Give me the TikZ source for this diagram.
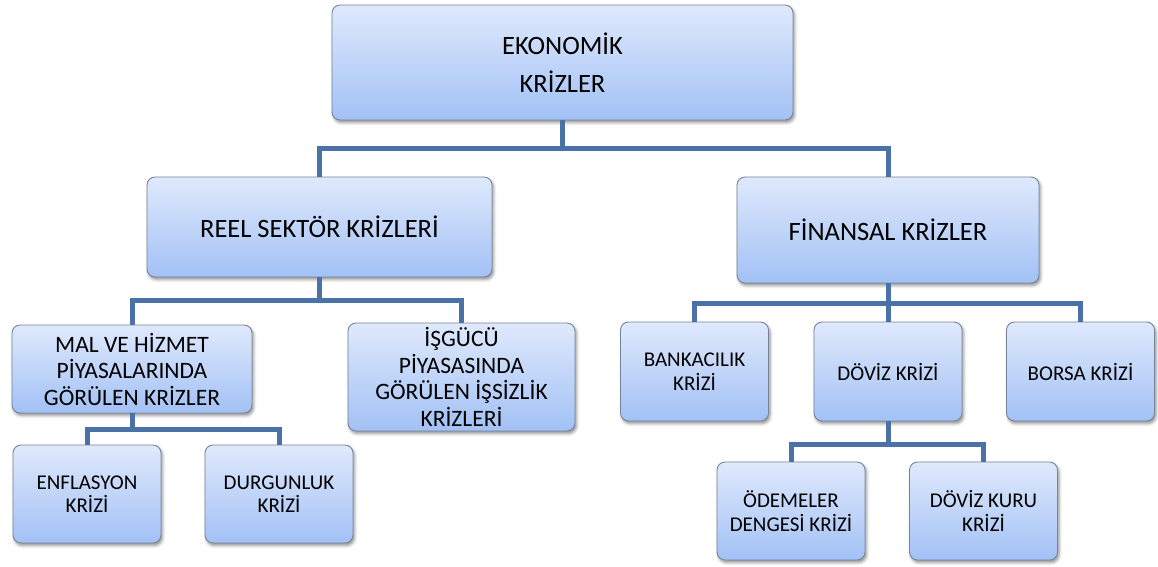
\documentclass[tikz,border=0pt]{standalone}
\usepackage{fontspec}
\setmainfont{Carlito}
\usetikzlibrary{shadows.blur}
\definecolor{boxtop}{RGB}{223,233,252}
\definecolor{boxbot}{RGB}{162,193,245}
\definecolor{boxline}{RGB}{118,132,152}
\definecolor{linkc}{RGB}{74,114,166}
\begin{document}
\begin{tikzpicture}[x=1pt,y=-1pt,
  box/.style={draw=boxline, line width=0.9pt, rounded corners=8pt,
    top color=boxtop, bottom color=boxbot, align=center, inner sep=0pt,
    blur shadow={shadow xshift=1.5pt, shadow yshift=-2.5pt,
      shadow blur radius=3pt, shadow opacity=45}},
  big/.style={font=\fontsize{26.5}{38}\selectfont},
  mid/.style={font=\fontsize{23.5}{26.5}\selectfont},
  small/.style={font=\fontsize{21}{23.5}\selectfont, minimum width=148pt, minimum height=98pt},
  conn/.style={draw=linkc, line width=5pt}]
\useasboundingbox (0,0) rectangle (1158,566);

% top level
\node[box, big, minimum width=461pt, minimum height=115pt] (eko) at (562.5,62.5) {EKONOMİK\\KRİZLER};

% second level
\node[box, big, minimum width=345pt, minimum height=100pt] (reel) at (319.5,227) {REEL SEKTÖR KRİZLERİ};
\node[box, big, minimum width=302pt, minimum height=106pt] (fin) at (888,230) {FİNANSAL KRİZLER};

% real sector branch
\node[box, mid, minimum width=240pt, minimum height=88pt] (mal) at (132,369) {MAL VE HİZMET\\PİYASALARINDA\\GÖRÜLEN KRİZLER};
\node[box, mid, minimum width=227pt, minimum height=108pt] (isg) at (461.5,377) {İŞGÜCÜ\\PİYASASINDA\\GÖRÜLEN İŞSİZLİK\\KRİZLERİ};
\node[box, small] (enf) at (87,494) {ENFLASYON\\KRİZİ};
\node[box, small] (durg) at (279,494) {DURGUNLUK\\KRİZİ};

% financial branch
\node[box, small, minimum height=99pt] (bank) at (694.5,371.5) {BANKACILIK\\KRİZİ};
\node[box, small, minimum height=99pt] (doviz) at (888,371.5) {DÖVİZ KRİZİ};
\node[box, small, minimum height=99pt] (borsa) at (1080.5,371.5) {BORSA KRİZİ};
\node[box, small] (odem) at (791,511) {ÖDEMELER\\DENGESİ KRİZİ};
\node[box, small] (kur) at (983.5,511) {DÖVİZ KURU\\KRİZİ};

% connectors
\draw[conn] (eko.south) -- (eko.south |- 0,148) coordinate (b1);
\draw[conn] (reel.north) |- (b1) -| (fin.north);

\draw[conn] (reel.south) -- (reel.south |- 0,300) coordinate (b2);
\draw[conn] (mal.north) |- (b2) -| (isg.north);

\draw[conn] (mal.south) -- (mal.south |- 0,429) coordinate (b3);
\draw[conn] (enf.north) |- (b3) -| (durg.north);

\draw[conn] (fin.south) -- (fin.south |- 0,303) coordinate (b4);
\draw[conn] (bank.north) |- (b4) -| (borsa.north);
\draw[conn] (b4) -- (doviz.north);

\draw[conn] (doviz.south) -- (doviz.south |- 0,444) coordinate (b5);
\draw[conn] (odem.north) |- (b5) -| (kur.north);
\end{tikzpicture}
\end{document}
